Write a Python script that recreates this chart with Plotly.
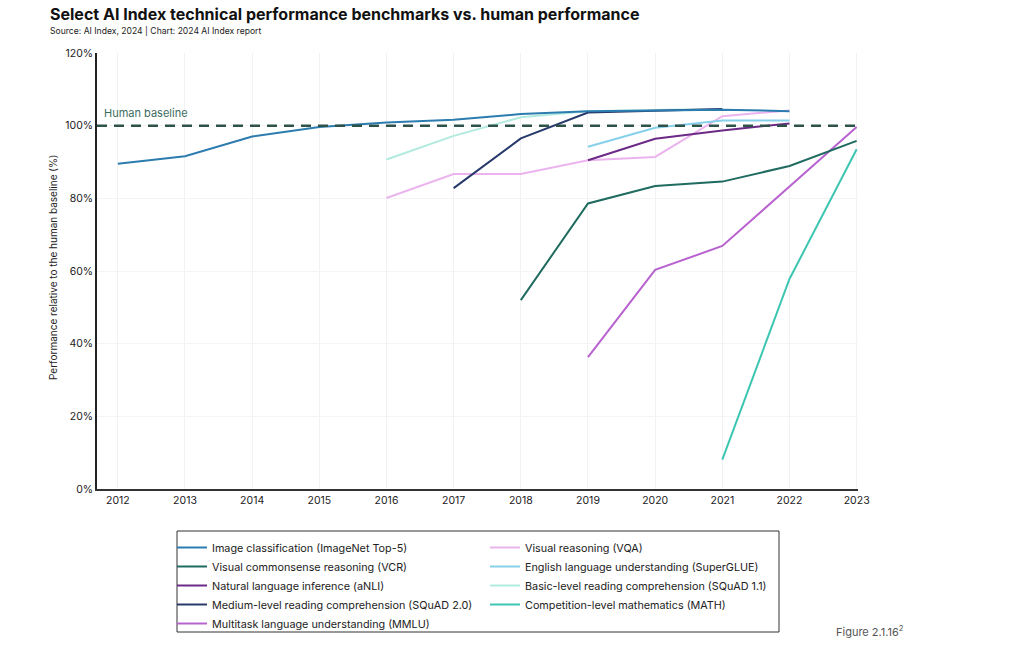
import plotly.graph_objects as go

# ---------------- data ----------------
years = list(range(2012, 2024))

series_names = [
    "Image classification (ImageNet Top-5)",
    "Visual commonsense reasoning (VCR)",
    "Natural language inference (aNLI)",
    "Medium-level reading comprehension (SQuAD 2.0)",
    "Multitask language understanding (MMLU)",
    "Visual reasoning (VQA)",
    "English language understanding (SuperGLUE)",
    "Basic-level reading comprehension (SQuAD 1.1)",
    "Competition-level mathematics (MATH)",
]

imagenet_years = list(range(2012, 2023))
imagenet_vals = [89.5, 91.6, 97.0, 99.6, 100.9, 101.6, 103.2, 104.0, 104.2, 104.4, 104.0]

vcr_years = list(range(2018, 2024))
vcr_vals = [52.0, 78.6, 83.4, 84.6, 88.9, 95.8]

anli_years = list(range(2019, 2023))
anli_vals = [90.5, 96.4, 98.7, 100.6]

squad2_years = list(range(2017, 2022))
squad2_vals = [82.8, 96.5, 103.6, 104.2, 104.6]

mmlu_years = list(range(2019, 2024))
mmlu_vals = [36.3, 60.3, 66.9, 83.3, 99.6]

vqa_years = list(range(2016, 2023))
vqa_vals = [80.1, 86.7, 86.7, 90.5, 91.4, 102.6, 104.2]

superglue_years = list(range(2019, 2023))
superglue_vals = [94.2, 99.4, 101.4, 101.4]

squad1_years = list(range(2016, 2022))
squad1_vals = [90.7, 97.2, 102.3, 104.0, 104.3, 104.6]

math_years = list(range(2021, 2024))
math_vals = [8.1, 57.8, 93.5]

human_baseline = 100
y_ticks = [0, 20, 40, 60, 80, 100, 120]

# ---------------- styling ----------------
colors = ["#2d7cb0", "#1f6b60", "#6c2a86", "#28396b", "#b862cf",
          "#ebb4ee", "#86d0ea", "#b2eadf", "#3cc6b2"]

data = [
    (imagenet_years, imagenet_vals),
    (vcr_years, vcr_vals),
    (anli_years, anli_vals),
    (squad2_years, squad2_vals),
    (mmlu_years, mmlu_vals),
    (vqa_years, vqa_vals),
    (superglue_years, superglue_vals),
    (squad1_years, squad1_vals),
    (math_years, math_vals),
]

FONT = "Inter"
fig = go.Figure()

# draw lighter series first so darker ones are on top
draw_order = [7, 5, 6, 8, 4, 1, 2, 3, 0]
legend_of = {0: "legend", 1: "legend", 2: "legend", 3: "legend", 4: "legend",
             5: "legend2", 6: "legend2", 7: "legend2", 8: "legend2"}
for i in draw_order:
    xs, ys = data[i]
    fig.add_trace(go.Scatter(
        x=xs, y=ys, mode="lines", name=series_names[i],
        line=dict(color=colors[i], width=2),
        legend=legend_of[i], legendrank=i,
    ))

L, R, T, B = 97, 858, 53, 489          # plot area in pixel coords
W, H = 1024, 657
pw, ph = R - L, B - T

def px(x):
    return (x - L) / pw

def py(y):
    return (B - y) / ph

LEG_FONT = dict(size=10.8, color="#222", family=FONT)

fig.update_layout(
    width=W, height=H,
    margin=dict(l=L, r=W - R, t=T, b=H - B, pad=0),
    paper_bgcolor="white", plot_bgcolor="white",
    font=dict(family=FONT, size=11, color="#222"),
    showlegend=True,
    legend=dict(x=px(172), y=py(533), xanchor="left", yanchor="top",
                bgcolor="rgba(0,0,0,0)", borderwidth=0,
                font=LEG_FONT, itemwidth=30,
                traceorder="normal", tracegroupgap=0),
    legend2=dict(x=px(485), y=py(533), xanchor="left", yanchor="top",
                 bgcolor="rgba(0,0,0,0)", borderwidth=0,
                 font=LEG_FONT, itemwidth=30,
                 traceorder="normal", tracegroupgap=0),
    xaxis=dict(range=[2011.69, 2023.02], tickmode="array", tickvals=years,
               ticktext=[str(y) for y in years],
               showgrid=True, gridcolor="#f2f2f2", gridwidth=1,
               showline=True, linecolor="#333", linewidth=2,
               ticks="", tickfont=dict(size=10.5, color="#222"),
               zeroline=False, fixedrange=True),
    yaxis=dict(range=[0, 120], tickmode="array", tickvals=y_ticks,
               ticktext=[f"{v}%" for v in y_ticks],
               showgrid=True, gridcolor="#f4f4f4", gridwidth=1,
               showline=True, linecolor="#222", linewidth=1.5,
               ticks="", ticklabelstandoff=0,
               tickfont=dict(size=10.5, color="#222"),
               zeroline=False, fixedrange=True),
)

# human baseline
fig.add_shape(type="line", xref="paper", yref="y", x0=0, x1=1,
              y0=human_baseline, y1=human_baseline,
              line=dict(color="#2e5249", width=2.5, dash="10px,7px"), layer="above")

# legend box
fig.add_shape(type="rect", xref="paper", yref="paper",
              x0=px(177), x1=px(779), y0=py(632), y1=py(531),
              line=dict(color="#333", width=1), fillcolor="rgba(0,0,0,0)")

annotations = [
    dict(text="<b>Select AI Index technical performance benchmarks vs. human performance</b>",
         x=px(48), y=py(14), xanchor="left", yanchor="middle",
         font=dict(size=16, color="#111", family=FONT)),
    dict(text="Source: AI Index, 2024 | Chart: 2024 AI Index report",
         x=px(48), y=py(31), xanchor="left", yanchor="middle",
         font=dict(size=8.6, color="#222", family=FONT)),
    dict(text="Performance relative to the human baseline (%)",
         x=px(53), y=py(268), xanchor="center", yanchor="middle",
         textangle=-90, font=dict(size=10, color="#222", family=FONT)),
    dict(text="Human baseline", x=px(102), y=py(113),
         xanchor="left", yanchor="middle",
         font=dict(size=11, color="#3d6b5e", family=FONT)),
    dict(text="Figure 2.1.16<sup>2</sup>", x=px(906), y=py(631),
         xanchor="right", yanchor="middle",
         font=dict(size=11, color="#555", family=FONT)),
]
for a in annotations:
    a.setdefault("xref", "paper")
    a.setdefault("yref", "paper")
    a["showarrow"] = False
    fig.add_annotation(**a)

fig.write_html("out.html",
               config={"displayModeBar": False},
               post_script="document.body.style.margin='0';document.body.style.overflow='hidden';")
